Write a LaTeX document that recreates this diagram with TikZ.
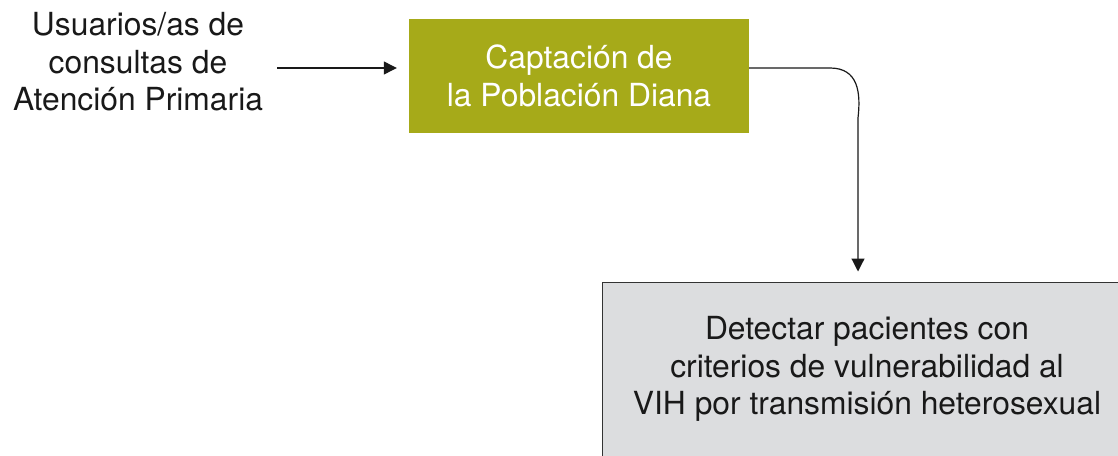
\documentclass[tikz,border=0pt]{standalone}
\usepackage{xcolor}
\usepackage{fontspec}
\setmainfont{TeX Gyre Heros}
\usetikzlibrary{arrows.meta}
\usetikzlibrary{positioning, calc}
\definecolor{olivebox}{HTML}{A6AA19}
\definecolor{greybox}{HTML}{DCDDDF}
\tikzset{
    txt/.style={align=center, font=\fontsize{31.8}{37.5}\selectfont, text=black!90},
    greenbox/.style={txt, fill=olivebox, text=white, minimum width=340pt, minimum height=114pt, inner sep=0pt},
    detbox/.style={txt, fill=greybox, draw=black!80, line width=1pt, minimum width=530pt, minimum height=174pt, inner sep=0pt},
    flow/.style={line width=1.2pt, draw=black!90, -{Triangle[length=13pt,width=13pt]}}
}

\begin{document}
\begin{tikzpicture}[x=1pt, y=-1pt]
              \useasboundingbox (0,0) rectangle (1118,455);
              \clip (0,0) rectangle (1118,455);
              \node[txt] (usu) at (138,62) {Usuarios/as de\\consultas de\\Atención Primaria};
              \node[greenbox] (cap) at (579,76) {Captación de\\la Población Diana};
              \node[detbox] (det) at (867,369) {Detectar pacientes con\\criterios de vulnerabilidad al\\VIH por transmisión heterosexual};
              \coordinate (bend) at (858,118);
              \draw[flow] (277,68) -- ([xshift=-12pt]cap.west |- 0,68);
              \draw[flow] (cap.east |- 0,68) -- (830,68) .. controls (858,68) and (861,92) .. (bend) -- ([yshift=10pt]bend |- det.north);
            \end{tikzpicture}
\end{document}
